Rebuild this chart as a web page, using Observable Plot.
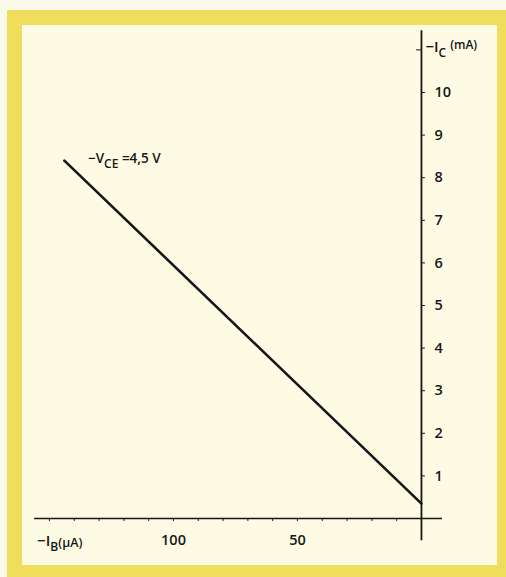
<!DOCTYPE html>
<html><head><meta charset="utf-8">
<script src="https://cdn.jsdelivr.net/npm/d3@7"></script>
<script src="https://cdn.jsdelivr.net/npm/@observablehq/plot@0.6"></script>
<style>
html,body{margin:0;padding:0;background:#fbf9ea;}
#wrap{position:relative;width:506px;height:577px;overflow:hidden;}
#frame{position:absolute;left:7px;top:10px;right:0;bottom:0;border-style:solid;border-color:#f1dd5c;border-width:15px 9px 12px 15px;background:#fdfbe4;}
#chart{position:absolute;left:0;top:0;}
</style></head>
<body><div id="wrap"><div id="frame"></div><div id="chart"></div></div>
<script>
// data
const curveIB = [144, 0];        // -I_B (µA)
const curveIC = [8.4, 0.35];     // -I_C (mA)
const curveLabel = "−V{CE} =4,5 V";
const yTickValues = [1,2,3,4,5,6,7,8,9,10];
const xTickValues = [10,20,30,40,50,60,70,80,90,100,110,120,130,140,150];
const xTickLabels = [100, 50];
const xAxisLabel = "−I{B}[(µA)]";
const yAxisLabel = "−I{C} ^(mA)^";

const curve = curveIB.map((v,i)=>({ib:v, ic:curveIC[i]}));
const ink = "#161616";
const font = "'Open Sans', sans-serif";

const chart = Plot.plot({
  width: 506, height: 577, margin: 0,
  x: {domain: [160, -8], range: [24.2, 440.8], axis: null},
  y: {domain: [0, 12], range: [518, 6.8], axis: null},
  style: {background: "transparent", fontFamily: font},
  marks: [
    Plot.ruleY([0], {x1: 156, x2: -8.5, stroke: ink, strokeWidth: 1.6}),
    Plot.ruleX([0], {y1: -0.52, y2: 11.45, stroke: ink, strokeWidth: 1.8}),
    Plot.ruleY(yTickValues, {y: d=>d, x1: 0, x2: -1.6, stroke: ink, strokeWidth: 1}),
    Plot.ruleY([11], {x1: 0, x2: 2, stroke: ink, strokeWidth: 1}),
    Plot.ruleX(xTickValues, {x: d=>d, y1: 0, y2: -0.07, stroke: ink, strokeWidth: 1}),
    Plot.line(curve, {x: "ib", y: "ic", stroke: ink, strokeWidth: 2.6}),
    Plot.text(yTickValues, {x: 0, y: d=>d, dx: 13, textAnchor: "start", text: d=>String(d), fontSize: 14.5, fontWeight: 600, fill: ink}),
    Plot.text(xTickLabels, {x: d=>d, y: 0, dy: 22, text: d=>String(d), fontSize: 14.5, fontWeight: 600, fill: ink}),
    Plot.text([xAxisLabel], {x: 155, y: 0, dy: 23, textAnchor: "start", text: d=>d, fontSize: 15, fontWeight: 600, fill: ink}),
    Plot.text([yAxisLabel], {x: 0, y: 11.06, dx: 4, textAnchor: "start", text: d=>d, fontSize: 15, fontWeight: 600, fill: ink}),
    Plot.text([curveLabel], {x: 134.5, y: 8.45, textAnchor: "start", text: d=>d, fontSize: 13.5, fontWeight: 600, fill: ink})
  ]
});

// turn {sub}, [small], ^sup^ markup into tspans
function markup(el){
  const s = el.textContent;
  if(!/[{\[\^]/.test(s)) return;
  el.textContent = "";
  const re = /\{([^}]*)\}|\[([^\]]*)\]|\^([^\^]*)\^|([^{\[\^]+)/g;
  let m, off = 0;
  const ns = "http://www.w3.org/2000/svg";
  while((m = re.exec(s))){
    const t = document.createElementNS(ns, "tspan");
    let target = 0, txt, size = null;
    if(m[1] !== undefined){ txt = m[1]; target = 5; size = "12px"; }
    else if(m[2] !== undefined){ txt = m[2]; target = 1; size = "12.5px"; }
    else if(m[3] !== undefined){ txt = m[3]; target = -3; size = "12px"; }
    else { txt = m[4]; target = 0; }
    t.setAttribute("dy", String(target - off));
    off = target;
    if(size) t.setAttribute("font-size", size);
    t.textContent = txt;
    el.appendChild(t);
  }
}
chart.querySelectorAll("text").forEach(markup);
document.getElementById("chart").appendChild(chart);
</script></body></html>
